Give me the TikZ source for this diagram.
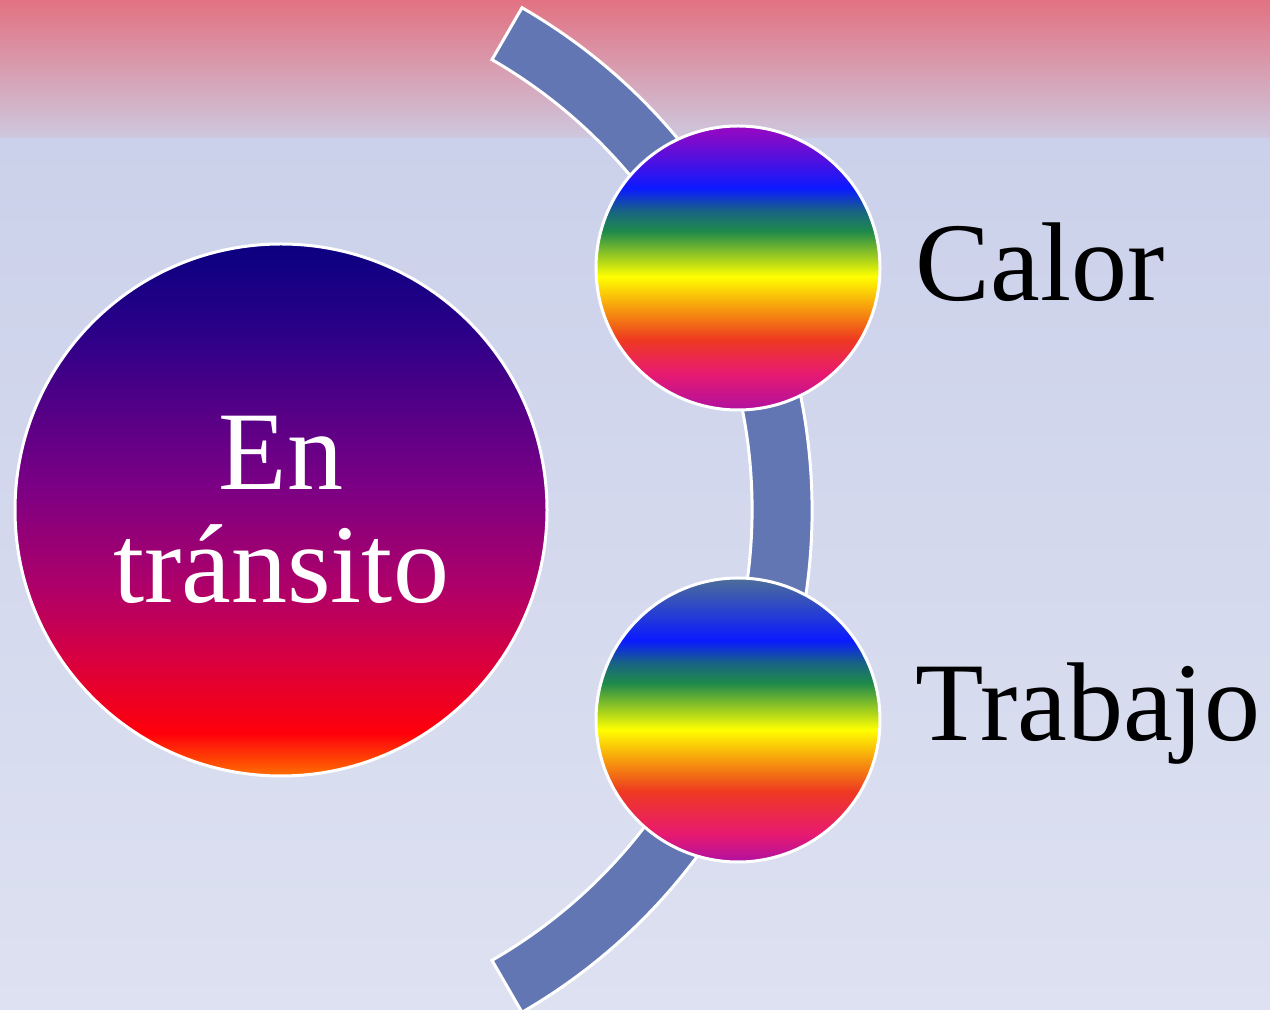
\documentclass[tikz,border=0pt]{standalone}
\usepackage{fontspec}
\setmainfont{Liberation Serif}
\usetikzlibrary{positioning}

% page and band colours
\definecolor{bgtop}{RGB}{203,209,234}
\definecolor{bgbottom}{RGB}{221,225,241}
\definecolor{hazered}{RGB}{226,114,130}
\definecolor{hazelow}{RGB}{206,200,222}
\definecolor{bandblue}{RGB}{98,118,179}

% colours of the small discs
\definecolor{rbmag}{RGB}{176,16,160}
\definecolor{rbpink}{RGB}{232,26,112}
\definecolor{rbred}{RGB}{238,58,32}
\definecolor{rborange}{RGB}{245,138,16}
\definecolor{rbyellow}{RGB}{255,255,0}
\definecolor{rbgreen}{RGB}{30,138,74}
\definecolor{rbteal}{RGB}{24,100,130}
\definecolor{rbblue}{RGB}{10,26,255}
\definecolor{rbviolet}{RGB}{154,8,192}
\definecolor{rbmidviolet}{RGB}{80,16,224}
\definecolor{rbslate}{RGB}{77,110,152}
\definecolor{rbmidslate}{RGB}{40,64,208}

% colours of the big disc
\definecolor{tnavy}{RGB}{10,0,128}
\definecolor{tdeep}{RGB}{42,0,136}
\definecolor{tpurple}{RGB}{122,0,133}
\definecolor{tberry}{RGB}{176,0,104}
\definecolor{tcrimson}{RGB}{216,0,64}
\definecolor{tred}{RGB}{255,0,10}
\definecolor{torange}{RGB}{255,112,0}

\pgfdeclareverticalshading{rainbowviolet}{100bp}{color(0bp)=(rbmag); color(25bp)=(rbmag);
  color(31.5bp)=(rbpink); color(37.5bp)=(rbred); color(42bp)=(rborange);
  color(48.5bp)=(rbyellow); color(56.5bp)=(rbgreen); color(60bp)=(rbteal);
  color(64bp)=(rbblue); color(69bp)=(rbmidviolet); color(75bp)=(rbviolet); color(100bp)=(rbviolet)}
\pgfdeclareverticalshading{rainbowslate}{100bp}{color(0bp)=(rbmag); color(25bp)=(rbmag);
  color(30bp)=(rbpink); color(37.5bp)=(rbred); color(42bp)=(rborange);
  color(48.3bp)=(rbyellow); color(56.5bp)=(rbgreen); color(60bp)=(rbteal);
  color(64bp)=(rbblue); color(69bp)=(rbmidslate); color(75bp)=(rbslate); color(100bp)=(rbslate)}
\pgfdeclareverticalshading{transit}{100bp}{color(0bp)=(torange); color(25bp)=(torange);
  color(29bp)=(tred); color(36bp)=(tcrimson); color(42.5bp)=(tberry);
  color(52.5bp)=(tpurple); color(67bp)=(tdeep); color(75bp)=(tnavy); color(100bp)=(tnavy)}

\begin{document}
\begin{tikzpicture}[x=1pt,y=1pt,
    disc/.style={circle,inner sep=0pt,draw=white,line width=3pt},
    bigtext/.style={font=\fontsize{112}{113}\selectfont},
    lbl/.style={bigtext,inner sep=0pt,node distance=34pt,yshift=6pt}]
  \useasboundingbox (0,0) rectangle (1270,1010);

  % background
  \shade[top color=bgtop,bottom color=bgbottom] (0,0) rectangle (1270,872);
  \shade[top color=hazered,bottom color=hazelow] (0,872) rectangle (1270,1010);

  % curved band behind the small discs
  \coordinate (hub) at (232,500);
  \filldraw[fill=bandblue,draw=white,line width=3pt]
    (hub) ++(-60:520) arc[start angle=-60,end angle=60,radius=520]
    -- ++(60:60) arc[start angle=60,end angle=-60,radius=580] -- cycle;

  \node[disc,minimum size=532pt,shading=transit,text=white,align=center,bigtext]
    (transito) at (281,500) {En\\tránsito};
  \node[disc,minimum size=284pt,shading=rainbowviolet] (calor) at (738,742) {};
  \node[disc,minimum size=284pt,shading=rainbowslate] (trabajo) at (738,290) {};

  \node[lbl,right=of calor] (calorlbl) {Calor};
  \node[lbl,right=of trabajo] (trabajolbl) {Trabajo};
\end{tikzpicture}
\end{document}
